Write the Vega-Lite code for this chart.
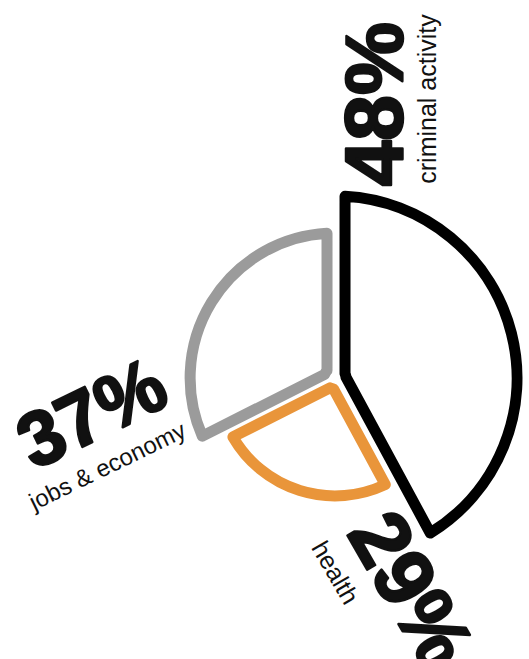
{
  "$schema": "https://vega.github.io/schema/vega-lite/v6.json",
  "autosize": {"type": "none"},
  "width": 388,
  "height": 562,
  "padding": {"left": 141, "top": 97, "right": 0, "bottom": 0},
  "background": "white",
  "config": {"view": {"stroke": null}},
  "data": {
    "values": [
      {"category": "criminal activity", "value": 48, "pct": "48%"},
      {"category": "health", "value": 29, "pct": "29%"},
      {"category": "jobs & economy", "value": 37, "pct": "37%"}
    ]
  },
  "encoding": {
    "theta": {"field": "value", "type": "quantitative", "stack": true},
    "radius": {"field": "value", "type": "quantitative", "scale": {"type": "linear", "domain": [0, 48], "range": [20, 182]}},
    "order": {"field": "category", "type": "ordinal"}
  },
  "layer": [
    {
      "mark": {"type": "arc", "innerRadius": 11, "padAngle": 0.11, "strokeWidth": 11, "strokeJoin": "round", "fill": "white"},
      "encoding": {
        "stroke": {"field": "category", "type": "nominal", "scale": {"domain": ["criminal activity", "health", "jobs & economy"], "range": ["#000000", "#E9953A", "#9B9B9B"]}, "legend": null}
      }
    },
    {
      "mark": {"type": "text", "font": "Liberation Sans", "fontWeight": "bold", "fontSize": 82, "angle": 270, "radiusOffset": 95, "thetaOffset": -1.171, "align": "center", "baseline": "middle", "color": "#111111", "stroke": "#111111", "strokeWidth": 2.5, "strokeJoin": "round"},
      "encoding": {"text": {"condition": {"test": "datum.category === 'criminal activity'", "field": "pct", "type": "nominal"}, "value": ""}}
    },
    {
      "mark": {"type": "text", "font": "Liberation Sans", "fontSize": 25, "angle": 270, "radiusOffset": 112, "thetaOffset": -1.002, "align": "center", "baseline": "middle", "color": "#111111"},
      "encoding": {"text": {"condition": {"test": "datum.category === 'criminal activity'", "field": "category", "type": "nominal"}, "value": ""}}
    },
    {
      "mark": {"type": "text", "font": "Liberation Sans", "fontWeight": "bold", "fontSize": 77, "angle": 334, "radiusOffset": 100, "thetaOffset": -0.707, "align": "center", "baseline": "middle", "color": "#111111", "stroke": "#111111", "strokeWidth": 2.5, "strokeJoin": "round"},
      "encoding": {"text": {"condition": {"test": "datum.category === 'jobs & economy'", "field": "pct", "type": "nominal"}, "value": ""}}
    },
    {
      "mark": {"type": "text", "font": "Liberation Sans", "fontSize": 24, "angle": 334, "radiusOffset": 99, "thetaOffset": -0.925, "align": "center", "baseline": "middle", "color": "#111111"},
      "encoding": {"text": {"condition": {"test": "datum.category === 'jobs & economy'", "field": "category", "type": "nominal"}, "value": ""}}
    },
    {
      "mark": {"type": "text", "font": "Liberation Sans", "fontWeight": "bold", "fontSize": 82, "angle": 60, "radiusOffset": 108, "thetaOffset": -0.635, "align": "center", "baseline": "middle", "color": "#111111", "stroke": "#111111", "strokeWidth": 2.5, "strokeJoin": "round"},
      "encoding": {"text": {"condition": {"test": "datum.category === 'health'", "field": "pct", "type": "nominal"}, "value": ""}}
    },
    {
      "mark": {"type": "text", "font": "Liberation Sans", "fontSize": 25, "angle": 60, "radiusOffset": 77, "thetaOffset": -0.302, "align": "center", "baseline": "middle", "color": "#111111"},
      "encoding": {"text": {"condition": {"test": "datum.category === 'health'", "field": "category", "type": "nominal"}, "value": ""}}
    }
  ]
}
